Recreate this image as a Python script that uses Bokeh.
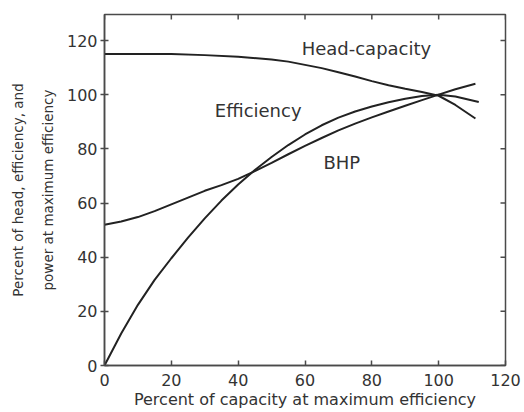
from bokeh.plotting import figure
from bokeh.models import Range1d, FixedTicker, Label
from bokeh.embed import file_html
from bokeh.resources import INLINE

# Data
head_x = [0, 10, 20, 30, 40, 50, 55, 60, 65, 70, 75, 80, 85, 90, 95, 100, 105, 111]
head_y = [115, 115, 115, 114.6, 114, 113, 112.2, 111, 109.8, 108.3, 106.7, 105, 103.5,
          102.2, 101, 99.6, 96.2, 91.2]

eff_x = [0, 5, 10, 15, 20, 25, 30, 35, 40, 45, 50, 55, 60, 65, 70, 75, 80, 85, 90, 95,
         100, 105, 112]
eff_y = [0, 11.8, 22.4, 31.6, 39.6, 47.2, 54.3, 60.9, 66.8, 72.2, 77, 81.4, 85.3, 88.7,
         91.5, 93.8, 95.6, 97.2, 98.5, 99.5, 100, 99.3, 97.3]

bhp_x = [0, 5, 10, 15, 20, 25, 30, 35, 40, 45, 50, 55, 60, 65, 70, 75, 80, 85, 90, 95,
         100, 105, 111]
bhp_y = [52, 53.2, 54.8, 57, 59.5, 62, 64.5, 66.6, 68.9, 71.8, 74.8, 78, 81.1, 84, 86.8,
         89.3, 91.6, 93.8, 95.9, 98, 100, 102, 104]

curve_names = ["Head-capacity", "Efficiency", "BHP"]
x_ticks = [0, 20, 40, 60, 80, 100, 120]
y_ticks = [0, 20, 40, 60, 80, 100, 120]

FONT = "DejaVu Sans"
INK = "#222222"
AX = "#4a4a4a"
TXT = "#333333"

FW, FH = 401, 351
X0, X1, Y0, Y1 = 0, 120, 0, 129.6

p = figure(width=524, height=412, frame_width=FW, frame_height=FH,
           x_range=Range1d(X0, X1), y_range=Range1d(Y0, Y1),
           output_backend="svg", toolbar_location=None,
           min_border_left=104, min_border_top=14, min_border_right=19, min_border_bottom=47,
           x_axis_label="Percent of capacity at maximum efficiency",
           y_axis_label="Percent of head, efficiency, and\npower at maximum efficiency")
p.grid.visible = False
p.outline_line_color = AX
p.outline_line_width = 1.5
p.background_fill_color = "white"
p.border_fill_color = "white"

for ax, ticks in ((p.xaxis[0], x_ticks), (p.yaxis[0], y_ticks)):
    ax.ticker = FixedTicker(ticks=ticks)
    ax.minor_tick_line_color = None
    ax.axis_line_color = AX
    ax.axis_line_width = 1.5
    ax.major_tick_line_color = AX
    ax.major_tick_line_width = 1.5
    ax.major_label_text_font = FONT
    ax.major_label_text_font_size = "16px"
    ax.major_label_text_color = TXT
    ax.axis_label_text_font = FONT
    ax.axis_label_text_font_style = "normal"
    ax.axis_label_text_color = TXT

p.xaxis[0].major_tick_in = 5
p.xaxis[0].major_tick_out = 0
p.xaxis[0].major_label_standoff = 8
p.xaxis[0].axis_label_text_font_size = "16px"
p.xaxis[0].axis_label_standoff = 1

p.yaxis[0].major_tick_in = 4
p.yaxis[0].major_tick_out = 4
p.yaxis[0].major_label_standoff = 3
p.yaxis[0].axis_label_text_font_size = "13.5px"
p.yaxis[0].axis_label_standoff = 8
p.yaxis[0].axis_label_text_line_height = 1.9

# inward tick marks on the top and right frame edges
tlx = 5 * (Y1 - Y0) / FH
tly = 5 * (X1 - X0) / FW
p.segment(x0=x_ticks, y0=[Y1] * len(x_ticks), x1=x_ticks, y1=[Y1 - tlx] * len(x_ticks),
          line_color=AX, line_width=1.5)
p.segment(x0=[X1] * len(y_ticks), y0=y_ticks, x1=[X1 - tly] * len(y_ticks), y1=y_ticks,
          line_color=AX, line_width=1.5)

p.line(head_x, head_y, line_color=INK, line_width=2)
p.line(eff_x, eff_y, line_color=INK, line_width=2)
p.line(bhp_x, bhp_y, line_color=INK, line_width=2)

label_pos = [(59, 117, "left"), (46, 94, "center"), (71, 75, "center")]
for name, (lx, ly, al) in zip(curve_names, label_pos):
    p.add_layout(Label(x=lx, y=ly, text=name, text_align=al, text_baseline="middle",
                       text_font=FONT, text_font_size="18px", text_color=TXT))

open("out.html", "w").write(file_html(p, INLINE))
